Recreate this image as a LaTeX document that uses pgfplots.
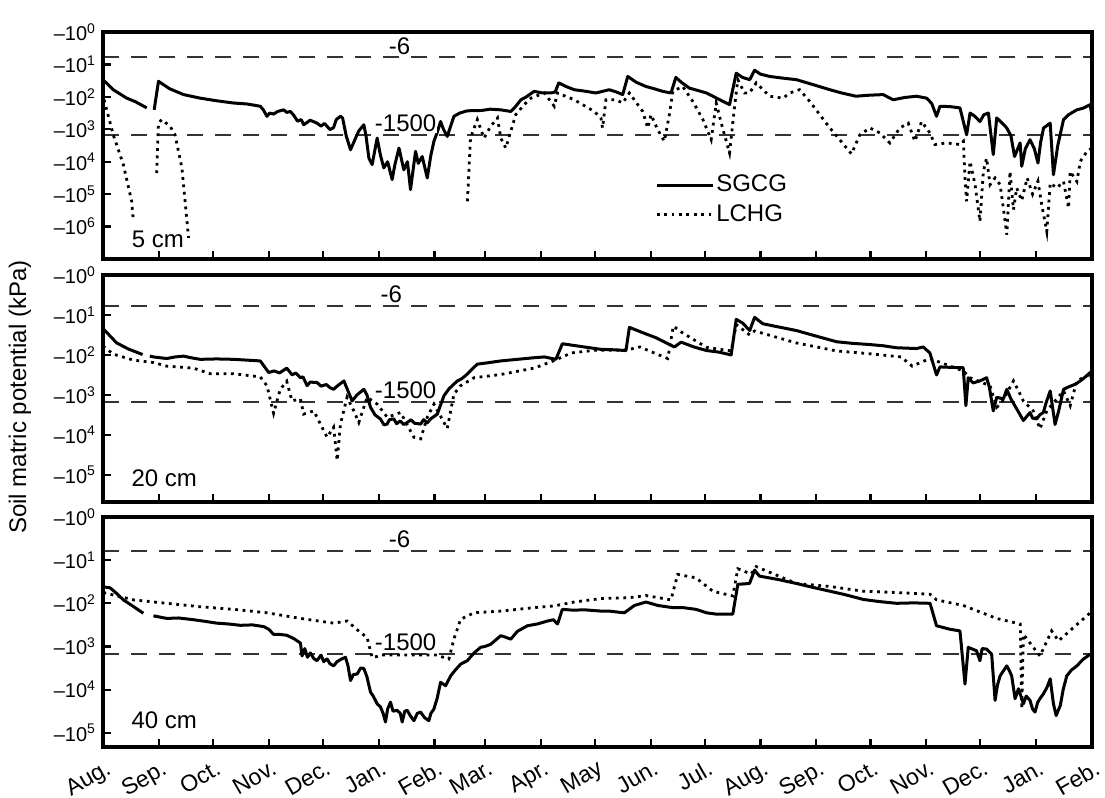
\documentclass[border=0pt]{standalone}
\usepackage{fontspec}
\setmainfont{Liberation Sans}
\usepackage{pgfplots}
\pgfplotsset{compat=1.18}
\newcommand{\ml}[1]{\textendash10\textsuperscript{#1}}
\newcommand{\bigf}{\fontsize{12}{14}\selectfont}
\tikzset{lab/.style={fill=white, inner sep=0.5pt, font=\bigf},
  frm/.style={line width=2pt, line cap=rect, black}}
\pgfplotsset{
  panel/.style={
    scale only axis, width=494.5pt,
    xmin=0, xmax=549, ymin=0, y dir=reverse,
    xtick={0,31,61,92,122,153,184,212,243,273,304,334,365,396,426,457,487,518,549},
    xtick pos=left, ytick pos=left, tick align=inside,
    major tick length=4pt,
    major tick style={line width=1.1pt, black},
    tick label style={font=\fontsize{10}{12}\selectfont},
    unbounded coords=jump,
  },
  refline/.style={forget plot, color=black!80, line width=1.1pt, dash pattern=on 8pt off 6pt},
  sgcg/.style={black, line width=1.5pt, line join=round},
  lchg/.style={black, line width=1.4pt, dash pattern=on 1.4pt off 2.3pt},
}
\begin{document}
\begin{tikzpicture}
\useasboundingbox (-51.5pt,16pt) rectangle (501pt,-383pt);
% ---------------- 5 cm ----------------
\begin{axis}[panel, name=p1, at={(0pt,0pt)}, anchor=north west, height=113.5pt, ymax=7.0,
  ytick={0,1,2,3,4,5,6}, yticklabels={\ml0,\ml1,\ml2,\ml3,\ml4,\ml5,\ml6},
  xticklabels={},
  legend style={at={(0.558,0.38)}, anchor=north west, draw=none, fill=none,
    font=\bigf, row sep=3pt, inner sep=0pt, nodes={inner sep=1pt}},
  legend cell align=left,
  legend image code/.code={\draw[#1] (0pt,0pt) -- (28pt,0pt);}]
\addplot[refline] coordinates {(0,0.778) (549,0.778)};
\addplot[refline] coordinates {(0,3.176) (549,3.176)};
\addplot[sgcg] coordinates {
(0,1.47) (5.7,1.78) (13.2,2.04) (18,2.15) (24.3,2.34) (26,nan) (28.4,2.40) (30.8,1.52) (37,1.75) (44.7,1.93) (54,2.04) (63,2.12) (72.5,2.19) (80,2.22) (87.3,2.29) (89,2.40) (91,2.60) (92.5,2.50) (94.7,2.53) (97,2.45) (100.3,2.40) (102,2.48) (104,2.45) (105.9,2.57) (108,2.75) (110,2.70) (111.4,2.86) (113,2.80) (115,2.72) (118.8,2.81) (121,2.90) (123,2.82) (126,3.01) (128,2.95) (129.5,2.70) (131.8,2.60) (133,2.65) (135,3.20) (137.4,3.63) (140,3.30) (142,3.05) (144.8,2.86) (146,3.20) (147.6,3.89) (149.4,4.09) (152.2,3.27) (154,3.80) (155.9,4.19) (158,4.00) (160.5,4.55) (162,4.10) (164.3,3.58) (167,4.25) (169,4.00) (170.7,4.86) (173.5,3.68) (175,4.05) (177.2,3.84) (180,4.50) (182,3.80) (183.7,3.37) (185.5,3.10) (187.4,2.76) (189,3.00) (191.1,3.22) (194.8,2.60) (198,2.50) (202.2,2.43) (210,2.42) (215,2.38) (220.8,2.40) (226.4,2.45) (229,2.30) (232,2.09) (235,2.00) (239.3,1.83) (244,1.88) (248.6,1.88) (251,1.85) (253,1.57) (257,1.68) (261.6,1.78) (267,1.82) (273.6,1.88) (281,1.78) (285,1.85) (288.5,1.93) (291.3,1.37) (296,1.55) (301.4,1.68) (306,1.75) (310.7,1.83) (315.3,1.88) (318,1.40) (321,1.55) (325.5,1.73) (330,1.80) (335,1.88) (341,2.05) (347.8,2.24) (351.5,1.27) (355,1.40) (359,1.47) (361.7,1.18) (365,1.30) (370,1.37) (377,1.42) (384.9,1.47) (394,1.62) (403.5,1.78) (410,1.88) (418,1.98) (425,1.95) (433.1,1.93) (438.6,2.09) (445,2.02) (451.6,1.98) (457.2,2.04) (460,2.20) (462.7,2.60) (464.6,2.29) (470,2.30) (475.7,2.34) (479.4,3.17) (481.3,2.50) (484,2.60) (486.8,2.76) (489,2.55) (491.5,2.50) (494.2,3.78) (496.1,2.65) (499,2.80) (501.7,2.96) (504,3.20) (506,3.84) (509.1,3.42) (510,4.14) (512,3.60) (514.6,3.32) (517,3.60) (519,4.04) (520.5,3.40) (522.1,2.96) (525.8,2.81) (527.6,4.40) (530,3.50) (533.2,2.70) (536,2.55) (540.6,2.40) (544,2.35) (548,2.24) (549,2.60)
};
\addlegendentry{SGCG}
\addplot[lchg] coordinates {
(0.6,2.09) (5.7,3.17) (11.3,4.09) (15.9,5.22) (16.8,5.79) (20,nan) (29.8,4.35) (30.8,2.81) (32.6,2.70) (37.3,2.91) (40,3.17) (43.8,4.19) (47.5,6.35) (100,nan) (202.3,5.22) (204,3.27) (207.8,2.70) (211.5,3.27) (215.2,2.91) (219,2.65) (220.8,3.27) (223.6,3.58) (225.5,3.22) (229.1,2.55) (233.8,2.24) (237.5,2.04) (245,1.88) (250.5,2.29) (252.3,1.88) (261.6,2.09) (272.7,2.45) (276.4,2.65) (277.3,2.96) (279.2,2.09) (284.8,2.09) (288.5,2.19) (292.2,1.88) (299.6,2.45) (302.4,2.96) (304.2,2.55) (307.9,3.01) (311.6,3.37) (314.4,2.55) (316.3,1.83) (321.8,1.68) (327.4,2.14) (333,2.70) (337.6,3.32) (340.4,2.19) (343.2,2.81) (347.8,3.73) (350.6,2.29) (352.4,1.47) (356.1,1.88) (358.9,1.88) (362.6,1.57) (370,1.98) (377.5,2.04) (381.2,1.88) (386.7,1.78) (392.3,2.14) (403.5,2.96) (415.5,3.76) (420.1,3.17) (425.7,2.96) (431.2,3.11) (436.8,3.42) (442.3,2.96) (447,2.81) (450.7,3.37) (454.4,2.76) (459,3.11) (461.8,3.47) (468.3,3.42) (475.7,3.47) (477.6,3.37) (478.5,4.50) (479.4,5.22) (481.3,3.99) (484.1,4.71) (486.8,5.84) (488.7,4.30) (490.5,3.89) (492.4,4.71) (495.2,4.50) (498,4.71) (499.8,5.43) (501.7,6.25) (503.5,4.30) (505.4,5.48) (507.2,4.81) (510,5.20) (513,4.50) (516,5.00) (519,4.60) (521,5.30) (523.9,6.15) (525.8,4.66) (529.5,4.81) (533.2,4.61) (536,5.43) (536.9,4.30) (540.6,4.61) (542.5,3.99) (546.2,3.68) (549,3.58)
};
\addlegendentry{LCHG}
\node[lab, anchor=south] at (axis cs:164.6,0.74) {-6};
\node[lab, anchor=south] at (axis cs:168,3.12) {-1500};
\node[font=\bigf] at (axis cs:30.5,6.40) {5 cm};
\end{axis}
\draw[frm] (p1.south west) rectangle (p1.north east);
% ---------------- 20 cm ----------------
\begin{axis}[panel, name=p2, at={(0pt,-121.5pt)}, anchor=north west, height=113.5pt, ymax=5.68,
  ytick={0,1,2,3,4,5}, yticklabels={\ml0,\ml1,\ml2,\ml3,\ml4,\ml5},
  xticklabels={}]
\addplot[refline] coordinates {(0,0.778) (549,0.778)};
\addplot[refline] coordinates {(0,3.176) (549,3.176)};
\addplot[sgcg] coordinates {
(0,1.34) (7.6,1.70) (14,1.85) (22,1.99) (24,nan) (26,2.03) (28,2.05) (35.4,2.09) (40,2.05) (44.7,2.03) (50,2.08) (54,2.11) (63,2.10) (72.5,2.11) (80,2.13) (87.3,2.15) (92,2.44) (95,2.40) (98,2.45) (102,2.33) (105,2.50) (107,2.45) (109.6,2.57) (111,2.55) (113.3,2.77) (115,2.68) (118.8,2.69) (121,2.78) (124,2.74) (126,2.82) (128,2.86) (130,2.78) (133.7,2.65) (136,2.90) (138.3,3.15) (141,3.00) (144.8,2.86) (146.5,3.00) (148.5,3.31) (151,3.50) (154,3.60) (156,3.75) (157.7,3.73) (159,3.62) (161.4,3.60) (163,3.72) (165,3.65) (167,3.74) (168.9,3.69) (171,3.62) (173,3.71) (176.3,3.73) (178,3.62) (180,3.70) (181.9,3.60) (185.6,3.48) (187,3.30) (189.3,3.02) (192,2.85) (196.7,2.65) (199,2.60) (202.2,2.48) (205,2.35) (207.8,2.23) (213,2.20) (220.8,2.15) (230,2.11) (239.3,2.07) (245,2.05) (251.4,2.11) (255,1.72) (261,1.76) (267.1,1.80) (276.4,1.86) (283,1.87) (290.3,1.89) (292.2,1.31) (300,1.45) (307,1.57) (317.2,1.80) (320.9,1.68) (328,1.80) (335,1.89) (342,1.93) (348.7,2.00) (351.5,1.11) (355,1.20) (359,1.39) (361.7,1.06) (366.3,1.22) (375,1.30) (384.9,1.39) (396,1.53) (407.2,1.67) (416,1.71) (425.6,1.74) (433,1.77) (440.5,1.82) (451.6,1.84) (455.3,1.80) (459,1.95) (462.7,2.50) (464.6,2.30) (470,2.31) (477.5,2.32) (479,3.27) (480.3,2.57) (483,2.70) (486.8,2.65) (490.5,2.57) (492,2.80) (494.2,3.40) (496.1,3.06) (499.8,3.10) (501.7,2.86) (504,3.10) (507.2,3.35) (510.9,3.64) (514.6,3.44) (516,3.58) (518.3,3.60) (520,3.50) (522,3.44) (523.5,3.20) (525.8,2.90) (528.5,3.74) (530.5,3.40) (533.2,2.86) (536,2.80) (539.9,2.73) (544,2.60) (548,2.44) (549,2.65)
};
\addplot[lchg] coordinates {
(0,1.78) (5.7,1.98) (16.9,2.13) (28,2.19) (35.4,2.28) (50.2,2.33) (59.5,2.47) (72.5,2.47) (87.3,2.55) (91,2.77) (94.7,3.46) (98.4,2.86) (102,2.66) (104.9,3.15) (109.6,3.10) (111.4,3.48) (117,3.40) (124.4,4.06) (128,3.81) (130,4.64) (131.8,3.73) (135.5,3.06) (139.2,3.40) (142,3.69) (146.6,3.06) (152.2,3.23) (157.8,3.56) (165.2,3.44) (172.6,4.06) (176.3,4.10) (180,3.56) (183.7,3.23) (191.1,3.84) (194.8,2.98) (198.5,2.77) (206,2.57) (220.8,2.49) (239.3,2.33) (250,2.15) (260,1.95) (273.6,1.88) (290.3,1.88) (298,1.80) (307,1.97) (313.5,2.09) (316.6,1.28) (321.8,1.45) (335,1.81) (348.7,1.90) (351.5,1.24) (359,1.50) (361.7,1.40) (384.9,1.70) (407.2,1.90) (425.6,1.97) (443,2.05) (449.2,2.28) (459,2.09) (477.5,2.40) (481.3,2.57) (492.4,2.77) (496.1,3.31) (498.9,3.19) (505.4,2.65) (510.9,3.15) (516.4,3.40) (520.1,3.85) (523.9,3.40) (533.2,2.90) (536.9,3.27) (540.6,2.65) (548,2.48)
};
\node[lab, anchor=south] at (axis cs:160,0.74) {-6};
\node[lab, anchor=south] at (axis cs:168,3.12) {-1500};
\node[font=\bigf] at (axis cs:34,5.09) {20 cm};
\end{axis}
\draw[frm] (p2.south west) rectangle (p2.north east);
% ---------------- 40 cm ----------------
\begin{axis}[panel, name=p3, at={(0pt,-242.5pt)}, anchor=north west, height=115pt, ymax=5.33,
  ytick={0,1,2,3,4,5}, yticklabels={\ml0,\ml1,\ml2,\ml3,\ml4,\ml5},
  xticklabels={Aug.,Sep.,Oct.,Nov.,Dec.,Jan.,Feb.,Mar.,Apr.,May,Jun.,Jul.,Aug.,Sep.,Oct.,Nov.,Dec.,Jan.,Feb.},
  xticklabel style={rotate=30, anchor=north east, font=\fontsize{11.5}{13}\selectfont, yshift=-2pt, xshift=1pt}]
\addplot[refline] coordinates {(0,0.782) (549,0.782)};
\addplot[refline] coordinates {(0,3.176) (549,3.176)};
\addplot[sgcg] coordinates {
(0.2,1.62) (3.9,1.64) (7,1.75) (11.3,1.92) (16,2.05) (22.4,2.23) (25,nan) (28,2.29) (35.4,2.35) (42,2.34) (50.2,2.38) (57,2.42) (63.2,2.46) (70,2.48) (76.2,2.51) (83,2.50) (89.2,2.54) (92,2.60) (94.7,2.72) (98,2.72) (102,2.74) (106,2.82) (109.6,2.92) (110.5,3.22) (112,3.05) (113.5,3.25) (115.1,3.15) (117,3.28) (118.8,3.33) (121,3.20) (122.5,3.35) (124.4,3.29) (126,3.40) (128,3.45) (130,3.35) (132,3.30) (134.6,3.25) (136,3.45) (137.4,3.79) (139,3.65) (141.1,3.64) (143,3.50) (144.8,3.51) (146.5,3.70) (148.5,4.06) (150,4.15) (152.2,4.33) (154,4.40) (155.5,4.55) (156.8,4.75) (158,4.45) (159.6,4.29) (161,4.50) (163.3,4.48) (165,4.55) (166.1,4.75) (167.5,4.50) (168.9,4.48) (170.5,4.60) (172.6,4.72) (174.5,4.55) (176.3,4.52) (178.5,4.65) (180.9,4.72) (182,4.55) (183.7,4.45) (185.5,4.20) (187.4,3.83) (190.2,3.91) (193,3.68) (195.5,3.55) (198.5,3.41) (202.2,3.33) (206,3.15) (209.6,3.02) (212,3.00) (215.2,2.95) (218,2.85) (220.8,2.75) (223,2.78) (226.4,2.83) (230,2.65) (235.6,2.52) (241,2.48) (246.8,2.41) (250,2.38) (252.3,2.48) (255,2.14) (261,2.16) (267.1,2.15) (276.4,2.18) (281,2.18) (285,2.20) (289.4,2.22) (295,2.05) (301.4,1.97) (308,2.05) (316.2,2.10) (322,2.10) (329.2,2.14) (335,2.22) (340.3,2.25) (349.6,2.25) (352.4,1.56) (358.9,1.54) (361.7,1.23) (364.4,1.37) (375,1.45) (384.9,1.54) (394,1.63) (403.5,1.72) (412,1.80) (422,1.91) (431,1.96) (440.5,2.00) (450,1.99) (459.1,2.00) (462.7,2.52) (470,2.60) (475.7,2.64) (478.5,3.87) (480.3,3.02) (482,3.05) (484.9,3.10) (486.8,3.33) (488,3.05) (490.5,3.06) (493.3,3.18) (495.2,4.25) (496.5,3.90) (498,3.68) (501.7,3.45) (503,3.55) (504.4,3.68) (506.3,4.21) (508.2,3.98) (510.9,4.33) (512.5,4.15) (514.6,4.25) (516,4.45) (517.4,4.52) (518.8,4.30) (520.1,4.21) (522,4.10) (524,3.95) (525.8,3.75) (527.6,4.33) (529.1,4.60) (531.4,4.37) (533,4.00) (535,3.68) (537.5,3.55) (540.6,3.45) (544,3.30) (548,3.18) (549,3.22)
};
\addplot[lchg] coordinates {
(0.2,1.75) (16.9,1.92) (35.4,2.00) (54,2.08) (72.5,2.14) (91,2.22) (109.6,2.35) (128,2.46) (135.5,2.41) (143,2.68) (146.6,2.79) (149.4,3.26) (155,3.20) (170,3.20) (185,3.20) (192,3.29) (194.8,2.83) (198.5,2.37) (206,2.22) (220.8,2.18) (239.3,2.10) (250.5,2.06) (261.6,1.97) (276.4,1.89) (292.2,1.87) (301.4,1.82) (315.3,1.92) (319,1.33) (329.2,1.41) (338.5,1.72) (349.6,1.83) (352.4,1.20) (359.8,1.32) (362.6,1.15) (384.9,1.54) (403.5,1.61) (422,1.72) (440.5,1.75) (459.1,1.79) (462.7,1.92) (477.5,2.05) (496,2.35) (509.2,2.48) (510,4.45) (510.9,2.72) (520.1,3.22) (526.6,2.64) (530.4,2.87) (548,2.22)
};
\node[lab, anchor=south] at (axis cs:164.6,0.74) {-6};
\node[lab, anchor=south] at (axis cs:168,3.12) {-1500};
\node[font=\bigf] at (axis cs:34,4.71) {40 cm};
\end{axis}
\draw[frm] (p3.south west) rectangle (p3.north east);
\node[rotate=90, font=\bigf] at (-41.5pt,-182.5pt) {Soil matric potential (kPa)};
\end{tikzpicture}
\end{document}
